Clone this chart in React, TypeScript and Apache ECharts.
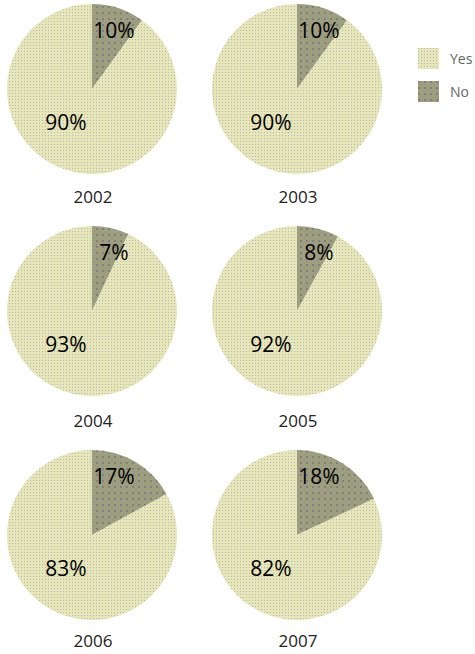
import React, { useEffect, useRef } from "react";
import * as echarts from "echarts";

const years = ["2002", "2003", "2004", "2005", "2006", "2007"];
const categories = ["No", "Yes"];
const noValues = [10, 10, 7, 8, 17, 18];
const yesValues = [90, 90, 93, 92, 83, 82];

const colX = [92, 297];
const rowY = [89, 311, 535];
const radius = 85;

const yesColor = "#e6e6b9";
const noColor = "#9d9d80";

export default function App() {
  const ref = useRef<HTMLDivElement>(null);
  useEffect(() => {
    document.body.style.margin = "0";
    if (!ref.current) return;
    const chart = echarts.init(ref.current, undefined, { renderer: "svg" });
    const centers = years.map((_, i) => [colX[i % 2], rowY[Math.floor(i / 2)]]);
    const series = years.map((y, i) => ({
      type: "pie",
      name: y,
      center: centers[i],
      radius: radius,
      startAngle: 90,
      clockwise: true,
      silent: true,
      data: [
        {
          name: categories[0],
          value: noValues[i],
          itemStyle: {
            color: noColor,
            decal: {
              symbol: "rect",
              symbolSize: 1,
              dashArrayX: [2, 4],
              dashArrayY: [2, 4],
              color: "rgba(105,105,120,0.55)",
            },
          },
        },
        {
          name: categories[1],
          value: yesValues[i],
          itemStyle: {
            color: yesColor,
            decal: {
              symbol: "rect",
              symbolSize: 1,
              dashArrayX: [1, 2],
              dashArrayY: [1, 2],
              color: "rgba(175,175,178,0.85)",
            },
          },
        },
      ],
      itemStyle: { borderWidth: 0 },
      label: {
        show: true,
        position: "inside",
        formatter: "{c}%",
        fontSize: 21,
        fontFamily: "Open Sans",
        color: "#000",
      },
      labelLine: { show: false },
      labelLayout: (p: any) => {
        const c = centers[p.seriesIndex];
        if (p.dataIndex === 0) {
          return { x: c[0] + 22, y: c[1] - 59, align: "center", verticalAlign: "middle" };
        }
        return { x: c[0] - 26, y: c[1] + 33, align: "center", verticalAlign: "middle" };
      },
    }));
    chart.setOption({
      animation: false,
      legend: {
        orient: "vertical",
        left: 413,
        top: 43,
        icon: "rect",
        itemWidth: 21,
        itemHeight: 21,
        itemGap: 12,
        data: ["Yes", "No"],
        textStyle: {
          fontSize: 14,
          color: "#666",
          fontFamily: "Open Sans",
          padding: [0, 0, 0, 6],
        },
        selectedMode: false,
      },
      series,
      graphic: years.map((y, i) => ({
        type: "text",
        x: centers[i][0] + 1,
        y: rowY[Math.floor(i / 2)] + (Math.floor(i / 2) === 0 ? 107 : Math.floor(i / 2) === 1 ? 109 : 105),
        style: {
          text: y,
          fontSize: 17,
          fontFamily: "Open Sans",
          fill: "#222",
          textAlign: "center",
          textVerticalAlign: "middle",
        },
      })),
    });
    return () => chart.dispose();
  }, []);
  return <div ref={ref} style={{ width: 475, height: 654 }} />;
}
